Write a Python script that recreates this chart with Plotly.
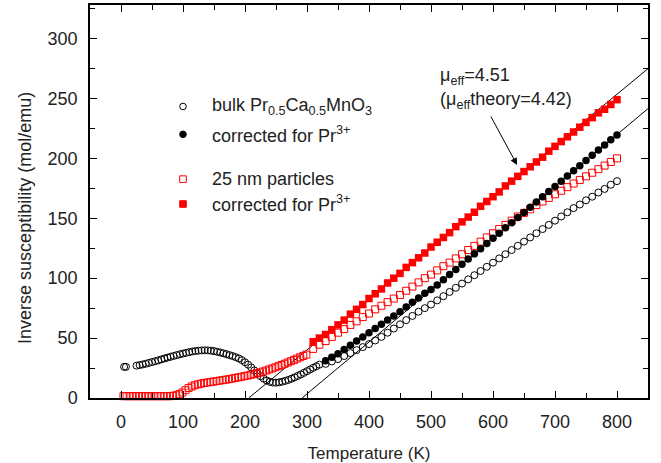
import plotly.graph_objects as go

# ---------------- data ----------------
# bulk Pr0.5Ca0.5MnO3 (open circles)
bulk_T = [5, 8] + list(range(25, 325, 5)) + list(range(330, 810, 10))
bulk_v = [26, 26,
          27, 27.5, 28, 28.6, 29.3, 30, 30.7, 31.4, 32.2, 33, 33.7, 34.4, 35.1, 35.8, 36.5, 37.1,
          37.7, 38.3, 38.8, 39.2, 39.5, 39.7, 39.8, 39.7, 39.5, 39.1, 38.6, 38, 37.3, 36.6,
          35.8, 35, 34.1, 33, 31.6, 29.8, 27.8, 25.5, 23, 20.5, 18.2, 16.2, 14.6, 13.5,
          12.9, 12.8, 13.1, 13.6, 14.3, 15.1, 16.1, 17.2, 18.4, 19.7, 21, 22.4, 23.8, 25.2, 26.5,
          27.8,
          28.5, 30.5, 32.5, 35, 37.5, 40, 42.5, 45, 48, 51, 54.5, 58, 61.5, 65, 68.5, 72,
          75, 78, 81.5, 85, 88.5, 92, 95.5, 99, 102.5, 106, 109.5, 113, 116.5, 120, 123.5,
          127, 130.5, 134, 137.5, 141, 144.5, 148, 151.5, 155, 158.5, 161.5, 165, 168,
          171.5, 174.5, 178, 181]

# bulk corrected for Pr3+ (filled circles)
bulkc_T = list(range(330, 810, 10))
bulkc_v = [31, 34, 37, 40.5, 44, 47.5, 51, 54.5, 58, 61.5, 65, 68.5, 72, 76, 80, 83.5, 87.5,
           90.5, 94.4, 98.7, 103, 107.3, 111.7, 116, 120.3, 124.6, 129, 133.3, 137.6, 142,
           146.3, 150.6, 154.9, 159.3, 163.6, 167.9, 172.3, 176.6, 180.9, 185.2, 189.6, 193.9,
           198.2, 202.6, 206.9, 211.2, 215.5, 219.5]

# 25 nm particles (open squares)
nano_T = list(range(4, 304, 5)) + list(range(310, 810, 10))
nano_v = [1.5] * 16 + [
    1.8, 2.3, 3.2, 4.6, 6.5, 8.3, 9.6, 10.6, 11.4, 12, 12.5, 12.9, 13.3, 13.7, 14.1, 14.5,
    14.9, 15.3, 15.7, 16.2, 16.7, 17.2, 17.7, 18.2, 18.7, 19.3, 19.9, 20.6, 21.3, 22.1,
    22.9, 23.8, 24.7, 25.6, 26.6, 27.6, 28.6, 29.6, 30.7, 31.8, 32.9, 34, 35.1, 36.2] + [
    41, 44.5, 47.5, 51, 54.5, 57.5, 61, 64, 67.5, 70.5, 74, 77, 80, 83, 86, 89.5, 93,
    96.5, 100, 103, 106.5, 110, 113, 116.5, 120, 123.5, 127, 130.5, 134, 137.5, 141,
    144.5, 148, 151.5, 154.5, 157.5, 161, 164, 167, 170, 173, 176, 179, 182, 185, 188,
    191, 194, 197, 200]

# 25 nm corrected for Pr3+ (filled squares)
nanoc_T = list(range(310, 810, 10))
nanoc_v = [47, 50, 53, 57, 61, 65, 70, 74, 78, 83, 87, 91, 96, 100, 104, 109, 113, 117, 121,
           126, 130, 134, 138, 143, 147, 151, 155, 160, 164, 168, 172, 177, 181, 185, 189,
           193, 197, 201, 206, 210, 214, 218, 222, 226, 230, 234, 238, 241, 245, 249]

assert len(bulk_T) == len(bulk_v)
assert len(bulkc_T) == len(bulkc_v)
assert len(nano_T) == len(nano_v)
assert len(nanoc_T) == len(nanoc_v)

# Curie-Weiss fit lines: theta (K) and slope (mol/emu per K)
fit_theta = [206, 292]
fit_slope = [0.4268, 0.4328]
fit_Tmax = 860

# ---------------- figure ----------------
FONT = "Liberation Sans, Arial, sans-serif"
TXT = "#222222"
RED = "#ff0000"

fig = go.Figure()

for th, sl in zip(fit_theta, fit_slope):
    fig.add_trace(go.Scatter(x=[th, fit_Tmax], y=[0, sl * (fit_Tmax - th)], mode="lines",
                             line=dict(color="black", width=1), showlegend=False,
                             hoverinfo="skip"))

fig.add_trace(go.Scatter(x=bulk_T, y=bulk_v, mode="markers", cliponaxis=False,
                         marker=dict(symbol="circle-open", size=7, color="black",
                                     line=dict(width=1, color="black")),
                         showlegend=False))
fig.add_trace(go.Scatter(x=nano_T, y=nano_v, mode="markers", cliponaxis=False,
                         marker=dict(symbol="square-open", size=7, color=RED,
                                     line=dict(width=1, color=RED)),
                         showlegend=False))
fig.add_trace(go.Scatter(x=bulkc_T, y=bulkc_v, mode="markers", cliponaxis=False,
                         marker=dict(symbol="circle", size=7.5, color="black"),
                         showlegend=False))
fig.add_trace(go.Scatter(x=nanoc_T, y=nanoc_v, mode="markers", cliponaxis=False,
                         marker=dict(symbol="square", size=7.5, color=RED),
                         showlegend=False))

# layout geometry
W, H = 661, 463
ML, MR, MT, MB = 90, 13, 3, 65
PW, PH = W - ML - MR, H - MT - MB


def px(x):
    return (x - ML) / PW


def py(y):
    return (H - MB - y) / PH


# manual legend
legend_rows = [
    ("bulk Pr<sub>0.5</sub>Ca<sub>0.5</sub>MnO<sub>3</sub>", "circle-open", 105),
    ("corrected for Pr<sup>3+</sup>", "circle", 133),
    ("25 nm particles", "square-open", 178),
    ("corrected for Pr<sup>3+</sup>", "square", 203),
]
annotations = []
shapes = []
for text, sym, yc in legend_rows:
    annotations.append(dict(x=px(210), y=py(yc), xref="paper", yref="paper", text=text,
                            showarrow=False, xanchor="left", yanchor="middle",
                            font=dict(family=FONT, size=18, color=TXT)))
    r = 3.3
    stype = "circle" if sym.startswith("circle") else "rect"
    col = "black" if stype == "circle" else RED
    fill = "rgba(0,0,0,0)" if sym.endswith("open") else col
    shapes.append(dict(type=stype, xref="paper", yref="paper", xsizemode="pixel",
                       ysizemode="pixel", xanchor=px(183), yanchor=py(yc),
                       x0=-r, x1=r, y0=-r, y1=r, fillcolor=fill,
                       line=dict(color=col, width=1)))

annotations.append(dict(x=px(438), y=py(75), xref="paper", yref="paper",
                        text="μ<sub>eff</sub>=4.51", showarrow=False, xanchor="left",
                        yanchor="middle", font=dict(family=FONT, size=18, color=TXT)))
annotations.append(dict(x=px(438), y=py(99), xref="paper", yref="paper",
                        text="(μ<sub>eff</sub>theory=4.42)", showarrow=False, xanchor="left",
                        yanchor="middle", font=dict(family=FONT, size=18, color=TXT)))
annotations.append(dict(x=638.8, y=194.5, xref="x", yref="y", text="", showarrow=True,
                        ax=-27, ay=-50, arrowhead=2, arrowsize=1.4, arrowwidth=1,
                        arrowcolor="black"))
# y-axis title
annotations.append(dict(x=px(25), y=py(217), xref="paper", yref="paper",
                        text="Inverse susceptibility (mol/emu)", textangle=-90,
                        showarrow=False, xanchor="center", yanchor="middle",
                        font=dict(family=FONT, size=18, color=TXT)))

axis_common = dict(showline=True, linecolor="black", linewidth=1.5, mirror="ticks",
                   ticks="inside", ticklen=7, tickwidth=1, tickcolor="black",
                   showgrid=False, zeroline=False,
                   tickfont=dict(family=FONT, size=18, color=TXT))

fig.update_layout(
    width=W, height=H,
    margin=dict(l=ML, r=MR, t=MT, b=MB),
    paper_bgcolor="white", plot_bgcolor="white",
    showlegend=False,
    annotations=annotations,
    shapes=shapes,
    xaxis=dict(range=[-50, 850], tickvals=[0, 100, 200, 300, 400, 500, 600, 700, 800],
               minor=dict(dtick=50, tick0=50, ticks="inside", ticklen=5, tickcolor="black"),
               title=dict(text="Temperature (K)", standoff=16,
                          font=dict(family=FONT, size=17, color=TXT)),
               ticklabelstandoff=7, **axis_common),
    yaxis=dict(range=[0, 328], tickvals=[0, 50, 100, 150, 200, 250, 300],
               minor=dict(dtick=25, tick0=25, ticks="inside", ticklen=5, tickcolor="black"),
               ticklabelstandoff=7, **axis_common),
)

fig.write_html("out.html")
